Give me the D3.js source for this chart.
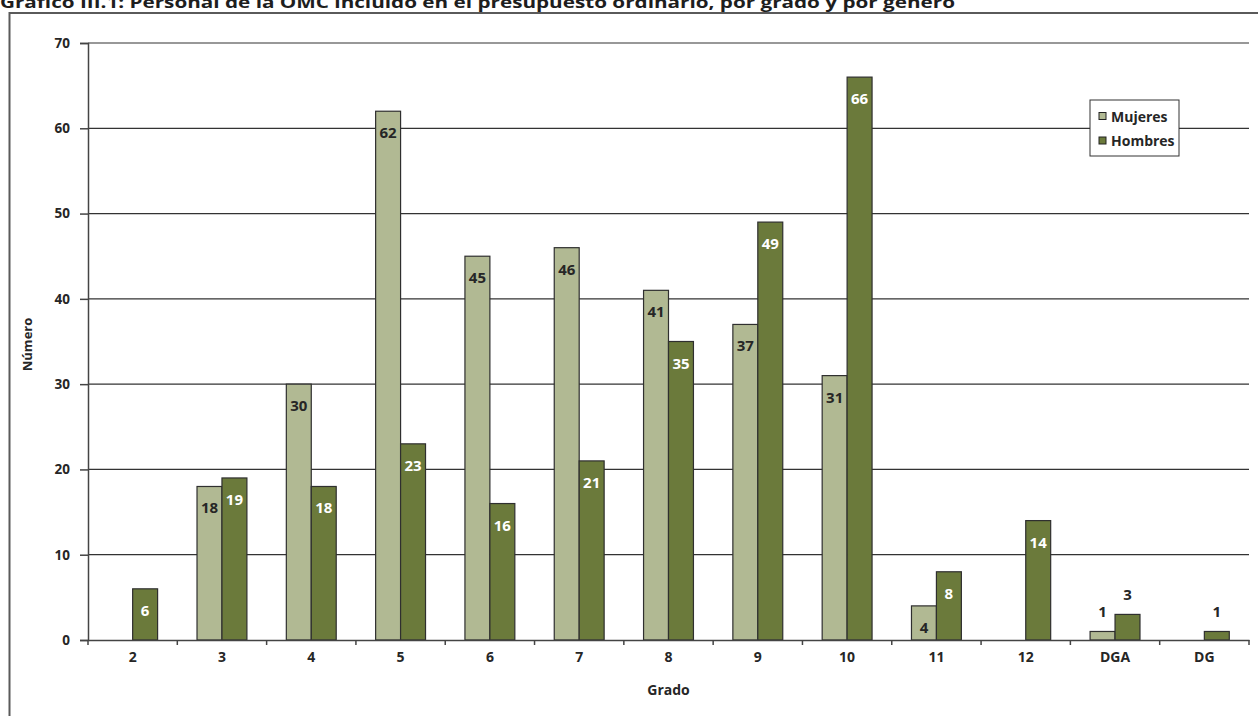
<!DOCTYPE html>
<html>
<head>
<meta charset="utf-8">
<script src="https://cdn.jsdelivr.net/npm/d3@7"></script>
<style>
  html, body { margin: 0; padding: 0; background: #fff; }
  svg { display: block; }
  text { font-family: 'Open Sans', 'Noto Sans', sans-serif; font-weight: 700; }
</style>
</head>
<body>
<svg id="chart" width="1258" height="716"></svg>
<script>
const title = "Gráfico III.1: Personal de la OMC incluido en el presupuesto ordinario, por grado y por género";
const categories = ["2", "3", "4", "5", "6", "7", "8", "9", "10", "11", "12", "DGA", "DG"];
const seriesNames = ["Mujeres", "Hombres"];
const mujeres = [0, 18, 30, 62, 45, 46, 41, 37, 31, 4, 0, 1, 0];
const hombres = [6, 19, 18, 23, 16, 21, 35, 49, 66, 8, 14, 3, 1];
const yTicks = [0, 10, 20, 30, 40, 50, 60, 70];
const colors = { Mujeres: "#b1b993", Hombres: "#6b7a3b" };
const labelColors = { Mujeres: "#262626", Hombres: "#ffffff" };

const svg = d3.select("#chart");
const M = { left: 88, right: 1249, top: 43, bottom: 640 };

// outer frame (left + top visible)
svg.append("rect").attr("x", 9.5).attr("y", 13).attr("width", 1300).attr("height", 800)
  .attr("fill", "none").attr("stroke", "#5a5a5a").attr("stroke-width", 2);

// title
svg.append("text").attr("x", 0).attr("y", 8)
  .attr("font-size", 16.5).attr("fill", "#1e1e1e")
  .attr("textLength", 955).attr("lengthAdjust", "spacingAndGlyphs")
  .text(title);

const x = d3.scaleBand().domain(categories).range([M.left, M.right]).paddingInner(0).paddingOuter(0);
const x1 = d3.scaleBand().domain(seriesNames).range([0, x.bandwidth()]).paddingInner(0).paddingOuter(0.79);
const y = d3.scaleLinear().domain([0, 70]).range([M.bottom, M.top]);

// gridlines
svg.append("g").selectAll("line").data(yTicks.filter(d => d > 0)).join("line")
  .attr("x1", M.left).attr("x2", M.right)
  .attr("y1", d => y(d)).attr("y2", d => y(d))
  .attr("stroke", "#333").attr("stroke-width", 1.2);

// y axis
const yAxis = svg.append("g").attr("transform", `translate(${M.left},0)`)
  .call(d3.axisLeft(y).tickValues(yTicks).tickSize(8).tickPadding(10));
yAxis.select(".domain").attr("stroke", "#444").attr("stroke-width", 1.5);
yAxis.selectAll(".tick line").attr("stroke", "#444").attr("stroke-width", 1.5);
yAxis.selectAll(".tick text").attr("font-size", 13.5).attr("fill", "#262626")
  .attr("font-family", "'Open Sans', sans-serif").attr("font-weight", 700);

// bars
const data = categories.map((c, i) => ({ cat: c, Mujeres: mujeres[i], Hombres: hombres[i] }));
const groups = svg.append("g").selectAll("g").data(data).join("g")
  .attr("transform", d => `translate(${x(d.cat)},0)`);

const items = groups.selectAll("g.item")
  .data(d => seriesNames.map(s => ({ s, v: d[s] })).filter(e => e.v > 0))
  .join("g").attr("class", "item");

items.append("rect")
  .attr("x", d => x1(d.s)).attr("width", x1.bandwidth())
  .attr("y", d => y(d.v)).attr("height", d => y(0) - y(d.v))
  .attr("fill", d => colors[d.s]).attr("stroke", "#2f2f2f").attr("stroke-width", 1.2);

items.append("text")
  .attr("x", d => x1(d.s) + x1.bandwidth() / 2)
  .attr("y", d => d.v > 3 ? y(d.v) + 21 : y(d.v) - 20)
  .attr("text-anchor", "middle").attr("dominant-baseline", "central")
  .attr("font-size", 15)
  .attr("fill", d => d.v > 3 ? labelColors[d.s] : "#262626")
  .text(d => d.v);

// x axis
const xAxis = svg.append("g").attr("transform", `translate(0,${M.bottom})`)
  .call(d3.axisBottom(x).tickSize(0).tickPadding(12));
xAxis.select(".domain").attr("stroke", "#444").attr("stroke-width", 1.5);
xAxis.selectAll(".tick text").attr("font-size", 14).attr("fill", "#262626")
  .attr("font-family", "'Open Sans', sans-serif").attr("font-weight", 700);
// boundary ticks
const bounds = categories.map(c => x(c)).concat([M.right]);
svg.append("g").selectAll("line").data(bounds).join("line")
  .attr("x1", d => d).attr("x2", d => d)
  .attr("y1", M.bottom).attr("y2", M.bottom + 5)
  .attr("stroke", "#444").attr("stroke-width", 1.5);

// axis titles
svg.append("text").attr("x", (M.left + M.right) / 2).attr("y", 689)
  .attr("text-anchor", "middle").attr("dominant-baseline", "central")
  .attr("font-size", 14).attr("fill", "#262626").text("Grado");
svg.append("text").attr("transform", `translate(27,${(M.top + M.bottom) / 2 + 3}) rotate(-90)`)
  .attr("text-anchor", "middle").attr("dominant-baseline", "central")
  .attr("font-size", 13).attr("fill", "#262626").text("Número");

// legend
const lg = svg.append("g").attr("transform", "translate(1090,100)");
lg.append("rect").attr("x", 0).attr("y", 0).attr("width", 89).attr("height", 56)
  .attr("fill", "#fff").attr("stroke", "#333").attr("stroke-width", 1);
seriesNames.forEach((s, i) => {
  const cy = 16 + i * 24.5;
  lg.append("rect").attr("x", 9).attr("y", cy - 3.5).attr("width", 7).attr("height", 7)
    .attr("fill", colors[s]).attr("stroke", "#222").attr("stroke-width", 1);
  lg.append("text").attr("x", 21).attr("y", cy).attr("dominant-baseline", "central")
    .attr("font-size", 14).attr("fill", "#262626").text(s);
});
</script>
</body>
</html>
